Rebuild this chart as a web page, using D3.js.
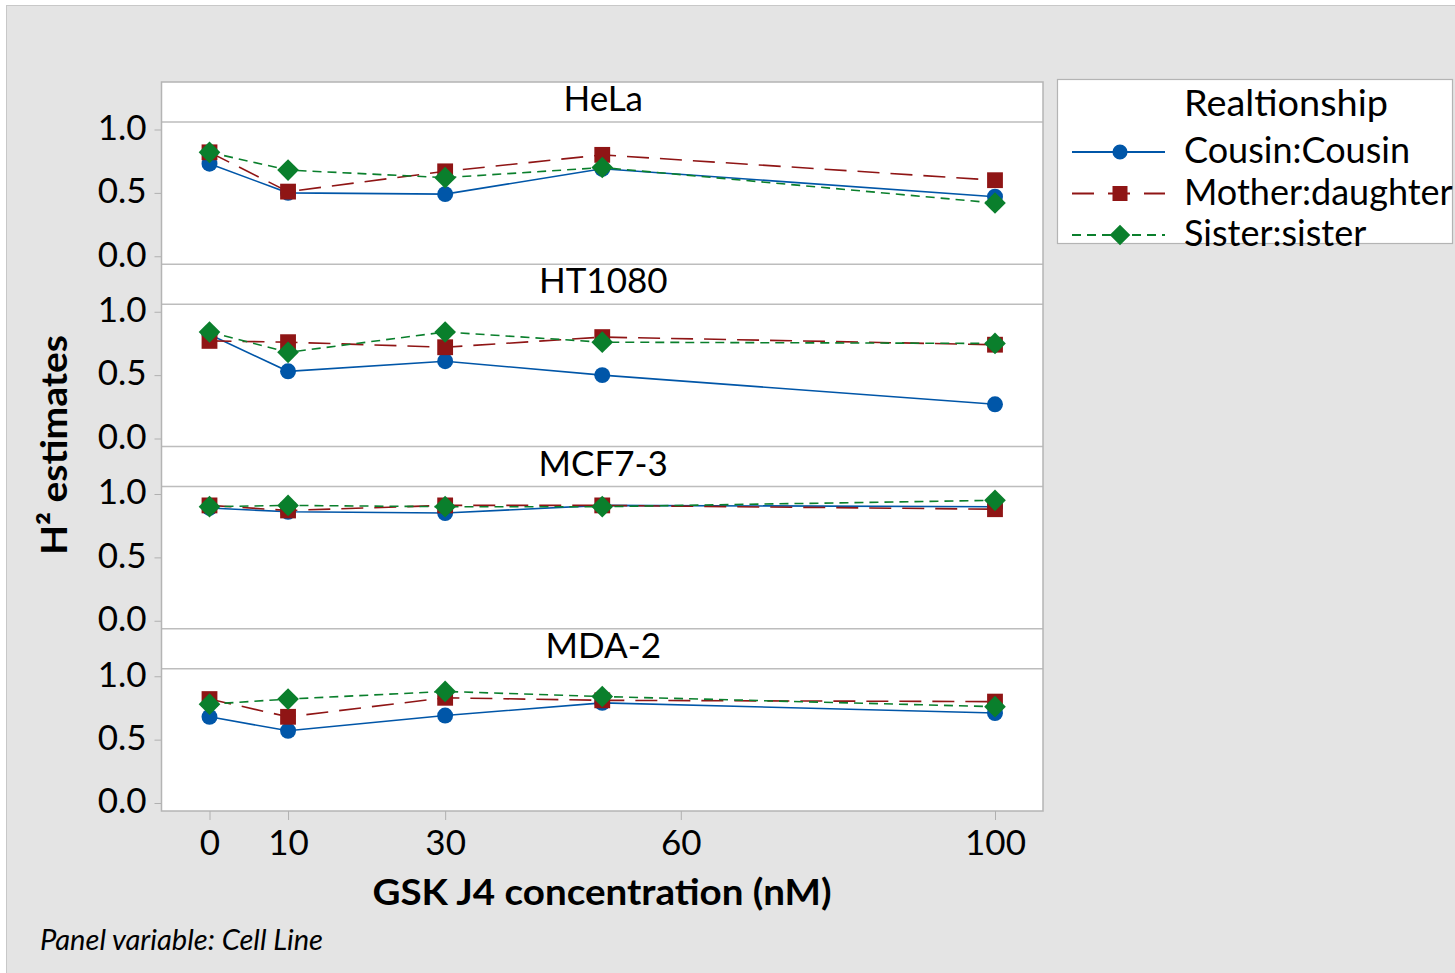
<!DOCTYPE html>
<html><head><meta charset="utf-8">
<script src="https://cdn.jsdelivr.net/npm/d3@7"></script>
<style>
html,body{margin:0;padding:0;background:#fff;}
text{font-family:Lato,"Open Sans",sans-serif;fill:#000;}
</style></head>
<body>
<svg id="chart" width="1455" height="973"></svg>
<script>
// ---- data ----
const concentrations = [0, 10, 30, 50, 100];
const xTicks = [0, 10, 30, 60, 100];
const yTicks = [0.0, 0.5, 1.0];
const cellLines = ["HeLa", "HT1080", "MCF7-3", "MDA-2"];
const relationships = ["Cousin:Cousin", "Mother:daughter", "Sister:sister"];
// values per cell line, order matches concentrations
const cousinCousin = {
  "HeLa":   [0.73, 0.50, 0.49, 0.69, 0.47],
  "HT1080": [0.82, 0.53, 0.61, 0.50, 0.27],
  "MCF7-3": [0.89, 0.86, 0.85, 0.91, 0.90],
  "MDA-2":  [0.68, 0.57, 0.69, 0.79, 0.71]
};
const motherDaughter = {
  "HeLa":   [0.82, 0.51, 0.67, 0.80, 0.60],
  "HT1080": [0.77, 0.76, 0.72, 0.80, 0.74],
  "MCF7-3": [0.91, 0.87, 0.91, 0.91, 0.88],
  "MDA-2":  [0.82, 0.68, 0.83, 0.81, 0.80]
};
const sisterSister = {
  "HeLa":   [0.82, 0.68, 0.62, 0.70, 0.42],
  "HT1080": [0.84, 0.68, 0.84, 0.76, 0.75],
  "MCF7-3": [0.90, 0.91, 0.90, 0.90, 0.95],
  "MDA-2":  [0.78, 0.82, 0.88, 0.84, 0.76]
};
const seriesValues = [cousinCousin, motherDaughter, sisterSister];

// ---- styles ----
const colors = ["#0056a8", "#8f1515", "#0a7f2c"];
const dashes = [null, "22,11", "9,6"];
const symbols = [d3.symbolCircle, d3.symbolSquare, d3.symbolSquare];
const symSizes = [200, 250, 235];
const symRot = [0, 0, 45];

const svg = d3.select("#chart");
svg.append("rect").attr("x",0).attr("y",0).attr("width",1455).attr("height",973).attr("fill","#ffffff");
svg.append("rect").attr("x",6.5).attr("y",5.5).attr("width",1460).attr("height",980)
  .attr("fill","#e4e4e4").attr("stroke","#c8c8c8").attr("stroke-width",1);

const plotL = 161.5, plotR = 1043, plotT = 82, plotB = 811;
const nP = cellLines.length;
const blockH = (plotB - plotT) / nP;
const stripH = 40;

const x = d3.scaleLinear().domain([0, 100]).range([209.5, 995]);

svg.append("rect").attr("x",plotL).attr("y",plotT).attr("width",plotR-plotL).attr("height",plotB-plotT)
  .attr("fill","#fff");

cellLines.forEach((cl, i) => {
  const top = plotT + i*blockH;
  const pTop = top + stripH, pBot = top + blockH;
  const y = d3.scaleLinear().domain([0,1]).range([pBot-8, pTop+7.5]);
  const g = svg.append("g");
  g.append("text").attr("x", (plotL+plotR)/2 + 1).attr("y", top + 29)
    .attr("text-anchor","middle").attr("font-size",35).text(cl);
  g.append("line").attr("x1",plotL).attr("x2",plotR).attr("y1",pTop).attr("y2",pTop)
    .attr("stroke","#bdbdbd").attr("stroke-width",1.5);
  if (i>0) g.append("line").attr("x1",plotL).attr("x2",plotR).attr("y1",top).attr("y2",top)
    .attr("stroke","#bdbdbd").attr("stroke-width",1.5);
  const ya = g.append("g").attr("transform",`translate(${plotL},0)`)
    .call(d3.axisLeft(y).tickValues(yTicks).tickFormat(d3.format(".1f")).tickSize(7).tickPadding(8));
  ya.select(".domain").remove();
  ya.selectAll("line").attr("stroke","#b0b0b0");
  ya.selectAll("text").attr("font-size",35).attr("font-family","Lato").attr("fill","#000").attr("dy","0.28em");

  seriesValues.forEach((sv, s) => {
    const pts = concentrations.map((c, k) => [x(c), y(sv[cl][k])]);
    g.append("path").attr("d", d3.line()(pts)).attr("fill","none")
      .attr("stroke", colors[s]).attr("stroke-width",1.6)
      .attr("stroke-dasharray", dashes[s]);
  });
  seriesValues.forEach((sv, s) => {
    g.selectAll(null).data(concentrations).enter().append("path")
      .attr("transform",(c,k)=>`translate(${x(c)},${y(sv[cl][k])}) rotate(${symRot[s]})`)
      .attr("d", d3.symbol().type(symbols[s]).size(symSizes[s])())
      .attr("fill", colors[s]);
  });
});

svg.append("rect").attr("x",plotL).attr("y",plotT).attr("width",plotR-plotL).attr("height",plotB-plotT)
  .attr("fill","none").attr("stroke","#b4b4b4").attr("stroke-width",1.5);

const xa = svg.append("g").attr("transform",`translate(0,${plotB})`)
  .call(d3.axisBottom(x).tickValues(xTicks).tickSize(9).tickPadding(10));
xa.select(".domain").remove();
xa.selectAll("line").attr("stroke","#b0b0b0");
xa.selectAll("text").attr("font-size",35).attr("font-family","Lato").attr("fill","#000");

svg.append("text").attr("x",602).attr("y",905).attr("text-anchor","middle")
  .attr("font-size",37).attr("font-weight","bold")
  .attr("textLength",459).attr("lengthAdjust","spacingAndGlyphs").text("GSK J4 concentration (nM)");
svg.append("text").attr("transform","translate(67,445) rotate(-90)").attr("text-anchor","middle")
  .attr("font-size",37).attr("font-weight","bold")
  .attr("textLength",220).attr("lengthAdjust","spacingAndGlyphs").text("H\u00B2  estimates");
svg.append("text").attr("x",40).attr("y",950).attr("font-size",28).attr("font-style","italic")
  .attr("textLength",283).attr("lengthAdjust","spacingAndGlyphs").text("Panel variable: Cell Line");

const lg = svg.append("g");
lg.append("rect").attr("x",1057.5).attr("y",79.5).attr("width",395).attr("height",164)
  .attr("fill","#fff").attr("stroke","#b4b4b4").attr("stroke-width",1.2);
lg.append("text").attr("x",1184).attr("y",116).attr("font-size",36)
  .attr("textLength",204).attr("lengthAdjust","spacingAndGlyphs").text("Realtionship");
relationships.forEach((r, s) => {
  const yy = 152 + s*41.5;
  lg.append("line").attr("x1",1072).attr("x2",1165).attr("y1",yy).attr("y2",yy)
    .attr("stroke",colors[s]).attr("stroke-width",2).attr("stroke-dasharray", s===1?"22,14":(s===2?"9,6":null));
  lg.append("path").attr("transform",`translate(1120,${yy}) rotate(${symRot[s]})`)
    .attr("d", d3.symbol().type(symbols[s]).size(symSizes[s]*0.9)()).attr("fill",colors[s]);
  lg.append("text").attr("x",1184).attr("y",yy+11).attr("font-size",36).text(r);
});
</script>
</body></html>
